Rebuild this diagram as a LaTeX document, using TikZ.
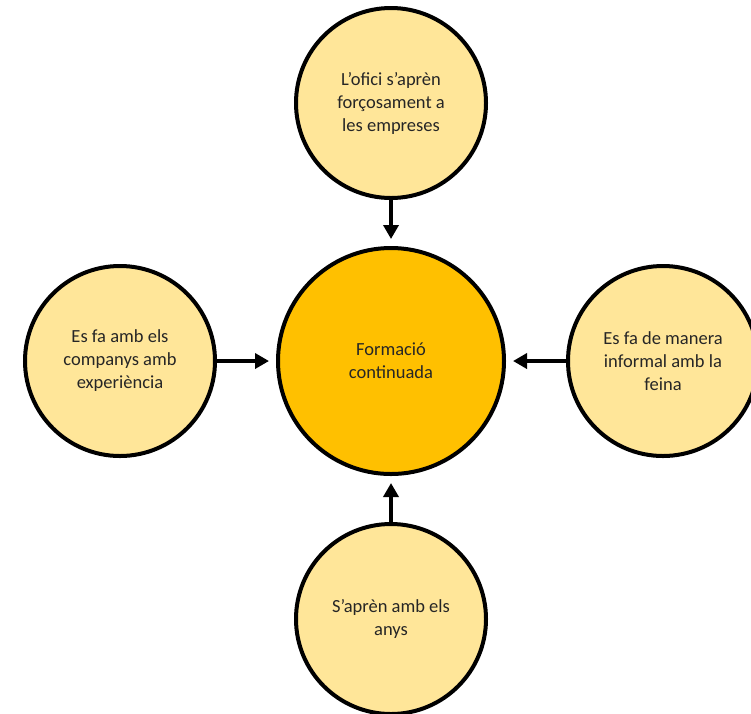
\documentclass[tikz,border=0pt]{standalone}
\usepackage{fontspec}
\setmainfont{Carlito}
\usetikzlibrary{arrows.meta}
\definecolor{lightgold}{HTML}{FFE699}
\definecolor{gold}{HTML}{FFC000}
\tikzset{
  bubble/.style={circle, draw=black, line width=4pt, fill=lightgold, minimum size=190pt,
    inner sep=0pt, align=center, font=\fontsize{18.5}{23}\selectfont, text=black!85},
  hub/.style={bubble, fill=gold, minimum size=226pt},
  link/.style={line width=4pt, -{Triangle[width=15pt,length=14pt]}, shorten >=7pt}
}
\begin{document}
\begin{tikzpicture}[x=1pt,y=-1pt]
\clip (0,0) rectangle (751,713);
\fill[white] (0,0) rectangle (751,713);
\node[hub] (c) at (391,361) {Formació\\continuada};
\node[bubble] (t) at (391,103) {L’ofici s’aprèn\\forçosament a\\les empreses};
\node[bubble] (l) at (120,361) {Es fa amb els\\companys amb\\experiència};
\node[bubble] (r) at (663,361) {Es fa de manera\\informal amb la\\feina};
\node[bubble] (b) at (391,619) {S’aprèn amb els\\anys};
\draw[link] (t) -- (c);
\draw[link] (l) -- (c);
\draw[link] (r) -- (c);
\draw[link] (b) -- (c);
\end{tikzpicture}
\end{document}
